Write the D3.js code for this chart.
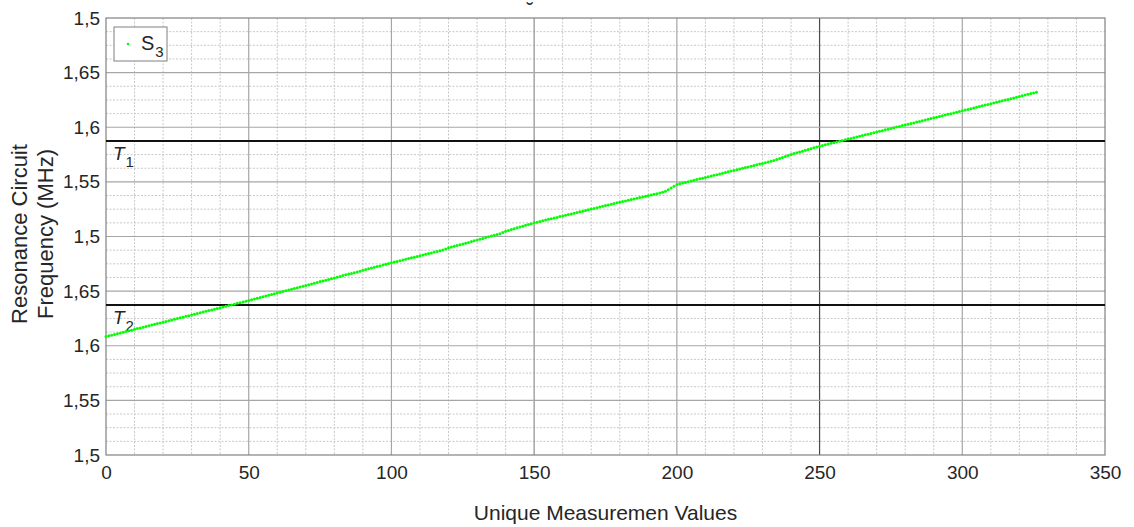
<!DOCTYPE html>
<html>
<head>
<meta charset="utf-8">
<script src="https://cdn.jsdelivr.net/npm/d3@7"></script>
<style>
  body { margin: 0; background: #fff; }
  text { font-family: "Liberation Sans", Arial, sans-serif; fill: #262626; }
</style>
</head>
<body>
<svg id="chart" width="1134" height="527"></svg>
<script>
// Tick labels as printed on the figure
var xTicks = [0, 50, 100, 150, 200, 250, 300, 350];
var yTickLabels = ["1,5", "1,55", "1,6", "1,65", "1,5", "1,55", "1,6", "1,65", "1,5"];

// Threshold lines (MHz, in the axis units)
var thresholds = [
  {name: "T", sub: "1", value: 1.7873},
  {name: "T", sub: "2", value: 1.6374}
];

// S3 resonance frequency per unique measurement (index 0..326)
var s3Values = [
  1.6084, 1.6091, 1.6097, 1.6104, 1.6110, 1.6117, 1.6124, 1.6130, 1.6137, 1.6143,
  1.6150, 1.6157, 1.6163, 1.6170, 1.6176, 1.6183, 1.6190, 1.6196, 1.6203, 1.6209,
  1.6216, 1.6223, 1.6229, 1.6236, 1.6242, 1.6249, 1.6256, 1.6262, 1.6269, 1.6275,
  1.6282, 1.6289, 1.6295, 1.6302, 1.6308, 1.6315, 1.6322, 1.6328, 1.6335, 1.6341,
  1.6348, 1.6355, 1.6361, 1.6368, 1.6374, 1.6381, 1.6388, 1.6394, 1.6401, 1.6407,
  1.6414, 1.6421, 1.6428, 1.6435, 1.6442, 1.6449, 1.6455, 1.6462, 1.6469, 1.6476,
  1.6483, 1.6490, 1.6497, 1.6504, 1.6511, 1.6518, 1.6524, 1.6531, 1.6538, 1.6545,
  1.6552, 1.6559, 1.6566, 1.6573, 1.6580, 1.6587, 1.6593, 1.6600, 1.6607, 1.6614,
  1.6621, 1.6628, 1.6635, 1.6642, 1.6649, 1.6656, 1.6662, 1.6669, 1.6676, 1.6683,
  1.6690, 1.6697, 1.6704, 1.6711, 1.6718, 1.6725, 1.6731, 1.6738, 1.6745, 1.6752,
  1.6759, 1.6766, 1.6772, 1.6779, 1.6785, 1.6792, 1.6798, 1.6805, 1.6811, 1.6818,
  1.6824, 1.6831, 1.6837, 1.6844, 1.6850, 1.6857, 1.6863, 1.6870, 1.6876, 1.6886,
  1.6896, 1.6903, 1.6910, 1.6918, 1.6925, 1.6932, 1.6939, 1.6946, 1.6954, 1.6961,
  1.6968, 1.6975, 1.6982, 1.6990, 1.6997, 1.7004, 1.7011, 1.7018, 1.7026, 1.7037,
  1.7048, 1.7056, 1.7063, 1.7071, 1.7079, 1.7087, 1.7094, 1.7102, 1.7110, 1.7117,
  1.7125, 1.7131, 1.7138, 1.7144, 1.7150, 1.7157, 1.7163, 1.7169, 1.7175, 1.7182,
  1.7188, 1.7194, 1.7201, 1.7207, 1.7213, 1.7220, 1.7226, 1.7232, 1.7238, 1.7245,
  1.7251, 1.7257, 1.7264, 1.7270, 1.7276, 1.7283, 1.7289, 1.7295, 1.7301, 1.7308,
  1.7314, 1.7320, 1.7326, 1.7332, 1.7338, 1.7344, 1.7350, 1.7356, 1.7362, 1.7368,
  1.7374, 1.7380, 1.7386, 1.7392, 1.7398, 1.7405, 1.7414, 1.7427, 1.7443, 1.7460,
  1.7476, 1.7482, 1.7489, 1.7495, 1.7502, 1.7508, 1.7515, 1.7521, 1.7528, 1.7534,
  1.7541, 1.7547, 1.7553, 1.7560, 1.7566, 1.7573, 1.7579, 1.7586, 1.7592, 1.7599,
  1.7605, 1.7611, 1.7618, 1.7624, 1.7631, 1.7637, 1.7644, 1.7650, 1.7657, 1.7663,
  1.7669, 1.7676, 1.7682, 1.7689, 1.7696, 1.7704, 1.7713, 1.7722, 1.7732, 1.7742,
  1.7751, 1.7759, 1.7766, 1.7774, 1.7781, 1.7789, 1.7797, 1.7804, 1.7812, 1.7819,
  1.7827, 1.7833, 1.7840, 1.7846, 1.7853, 1.7859, 1.7866, 1.7872, 1.7879, 1.7885,
  1.7892, 1.7898, 1.7905, 1.7911, 1.7918, 1.7924, 1.7931, 1.7937, 1.7943, 1.7950,
  1.7956, 1.7963, 1.7969, 1.7976, 1.7982, 1.7989, 1.7995, 1.8002, 1.8008, 1.8015,
  1.8021, 1.8027, 1.8034, 1.8040, 1.8047, 1.8053, 1.8060, 1.8066, 1.8073, 1.8079,
  1.8086, 1.8092, 1.8099, 1.8105, 1.8112, 1.8118, 1.8124, 1.8131, 1.8137, 1.8144,
  1.8150, 1.8157, 1.8163, 1.8170, 1.8176, 1.8183, 1.8189, 1.8196, 1.8203, 1.8209,
  1.8216, 1.8222, 1.8229, 1.8236, 1.8242, 1.8249, 1.8255, 1.8262, 1.8268, 1.8275,
  1.8282, 1.8288, 1.8295, 1.8301, 1.8308, 1.8314, 1.8321
];

var margin = {top: 18, right: 29, bottom: 72, left: 106};
var width = 1134, height = 527;
var innerW = width - margin.left - margin.right;
var innerH = height - margin.top - margin.bottom;

var svg = d3.select("#chart");

var x = d3.scaleLinear().domain([0, 350]).range([0, innerW]);
var y = d3.scaleLinear().domain([1.5, 1.9]).range([innerH, 0]);

var yTicks = yTickLabels.map(function(d, i) { return 1.5 + i * 0.05; });

var g = svg.append("g")
    .attr("transform", "translate(" + margin.left + "," + margin.top + ")");

// minor grid
g.append("g").selectAll("line")
    .data(d3.range(0, 351, 10).filter(function(d) { return d % 50 !== 0; }))
  .enter().append("line")
    .attr("x1", function(d) { return x(d); })
    .attr("x2", function(d) { return x(d); })
    .attr("y1", 0).attr("y2", innerH)
    .attr("stroke", "#c8c8c8").attr("stroke-width", 1)
    .attr("stroke-dasharray", "2,1.5");

g.append("g").selectAll("line")
    .data(d3.range(0, 33).filter(function(d) { return d % 4 !== 0; }))
  .enter().append("line")
    .attr("x1", 0).attr("x2", innerW)
    .attr("y1", function(d) { return y(1.5 + d * 0.0125); })
    .attr("y2", function(d) { return y(1.5 + d * 0.0125); })
    .attr("stroke", "#c8c8c8").attr("stroke-width", 1)
    .attr("stroke-dasharray", "2,1.5");

// major grid
g.append("g").selectAll("line")
    .data(xTicks.slice(1, -1))
  .enter().append("line")
    .attr("x1", function(d) { return x(d); })
    .attr("x2", function(d) { return x(d); })
    .attr("y1", 0).attr("y2", innerH)
    .attr("stroke", function(d) { return d === 250 ? "#4a4a4a" : (d === 150 ? "#909090" : "#a6a6a6"); })
    .attr("stroke-width", 1.2);

g.append("g").selectAll("line")
    .data(yTicks.slice(1, -1))
  .enter().append("line")
    .attr("x1", 0).attr("x2", innerW)
    .attr("y1", function(d) { return y(d); })
    .attr("y2", function(d) { return y(d); })
    .attr("stroke", "#a6a6a6").attr("stroke-width", 1.2);

// axes (labels only, box drawn separately)
var xAxis = d3.axisBottom(x).tickValues(xTicks).tickSize(0).tickPadding(11);
var yAxis = d3.axisLeft(y).tickValues(yTicks).tickSize(0).tickPadding(6)
    .tickFormat(function(d, i) { return yTickLabels[i]; });

g.append("g")
    .attr("transform", "translate(0," + innerH + ")")
    .call(xAxis)
    .call(function(s) { s.select(".domain").remove(); })
    .selectAll("text")
    .style("font-size", "19px").attr("fill", "#262626");

g.append("g")
    .call(yAxis)
    .call(function(s) { s.select(".domain").remove(); })
    .selectAll("text")
    .style("font-size", "19px").attr("fill", "#262626");

// box
g.append("rect")
    .attr("width", innerW).attr("height", innerH)
    .attr("fill", "none").attr("stroke", "#808080").attr("stroke-width", 1.2);

// thresholds
g.append("g").selectAll("line")
    .data(thresholds)
  .enter().append("line")
    .attr("x1", 0).attr("x2", innerW)
    .attr("y1", function(d) { return y(d.value); })
    .attr("y2", function(d) { return y(d.value); })
    .attr("stroke", "#111").attr("stroke-width", 2);

var tLabels = g.append("g").selectAll("text")
    .data(thresholds)
  .enter().append("text")
    .attr("x", 7)
    .attr("y", function(d) { return y(d.value) + 19; })
    .style("font-size", "19px");
tLabels.append("tspan")
    .style("font-style", "italic")
    .text(function(d) { return d.name; });
tLabels.append("tspan")
    .attr("dy", 7).attr("dx", 1)
    .style("font-size", "15px")
    .text(function(d) { return d.sub; });

// data points
g.append("g").selectAll("circle")
    .data(s3Values)
  .enter().append("circle")
    .attr("cx", function(d, i) { return x(i); })
    .attr("cy", function(d) { return y(d); })
    .attr("r", 1.5)
    .attr("fill", "#00ff00");

// legend
var legend = g.append("g").attr("transform", "translate(8,9)");
legend.append("rect")
    .attr("width", 53).attr("height", 34)
    .attr("fill", "#fff").attr("stroke", "#808080").attr("stroke-width", 1);
legend.append("circle")
    .attr("cx", 14).attr("cy", 17).attr("r", 1.3).attr("fill", "#00ff00");
var lt = legend.append("text").attr("x", 27).attr("y", 23).style("font-size", "20px");
lt.append("tspan").text("S");
lt.append("tspan").attr("dy", 7).attr("dx", 1).style("font-size", "15px").text("3");

// axis titles
svg.append("text")
    .attr("x", margin.left + innerW / 2)
    .attr("y", 520)
    .attr("text-anchor", "middle")
    .style("font-size", "21px")
    .text("Unique Measuremen Values");

var yt = svg.append("text")
    .attr("transform", "translate(27,234) rotate(-90)")
    .attr("text-anchor", "middle")
    .style("font-size", "22px");
yt.append("tspan").attr("x", 0).attr("dy", 0).text("Resonance Circuit");
yt.append("tspan").attr("x", 0).attr("dy", 26).text("Frequency (MHz)");

// clipped title remnant
svg.append("text")
    .attr("x", 530).attr("y", 17)
    .attr("text-anchor", "middle")
    .style("font-size", "20px")
    .text("˘");
</script>
</body>
</html>
